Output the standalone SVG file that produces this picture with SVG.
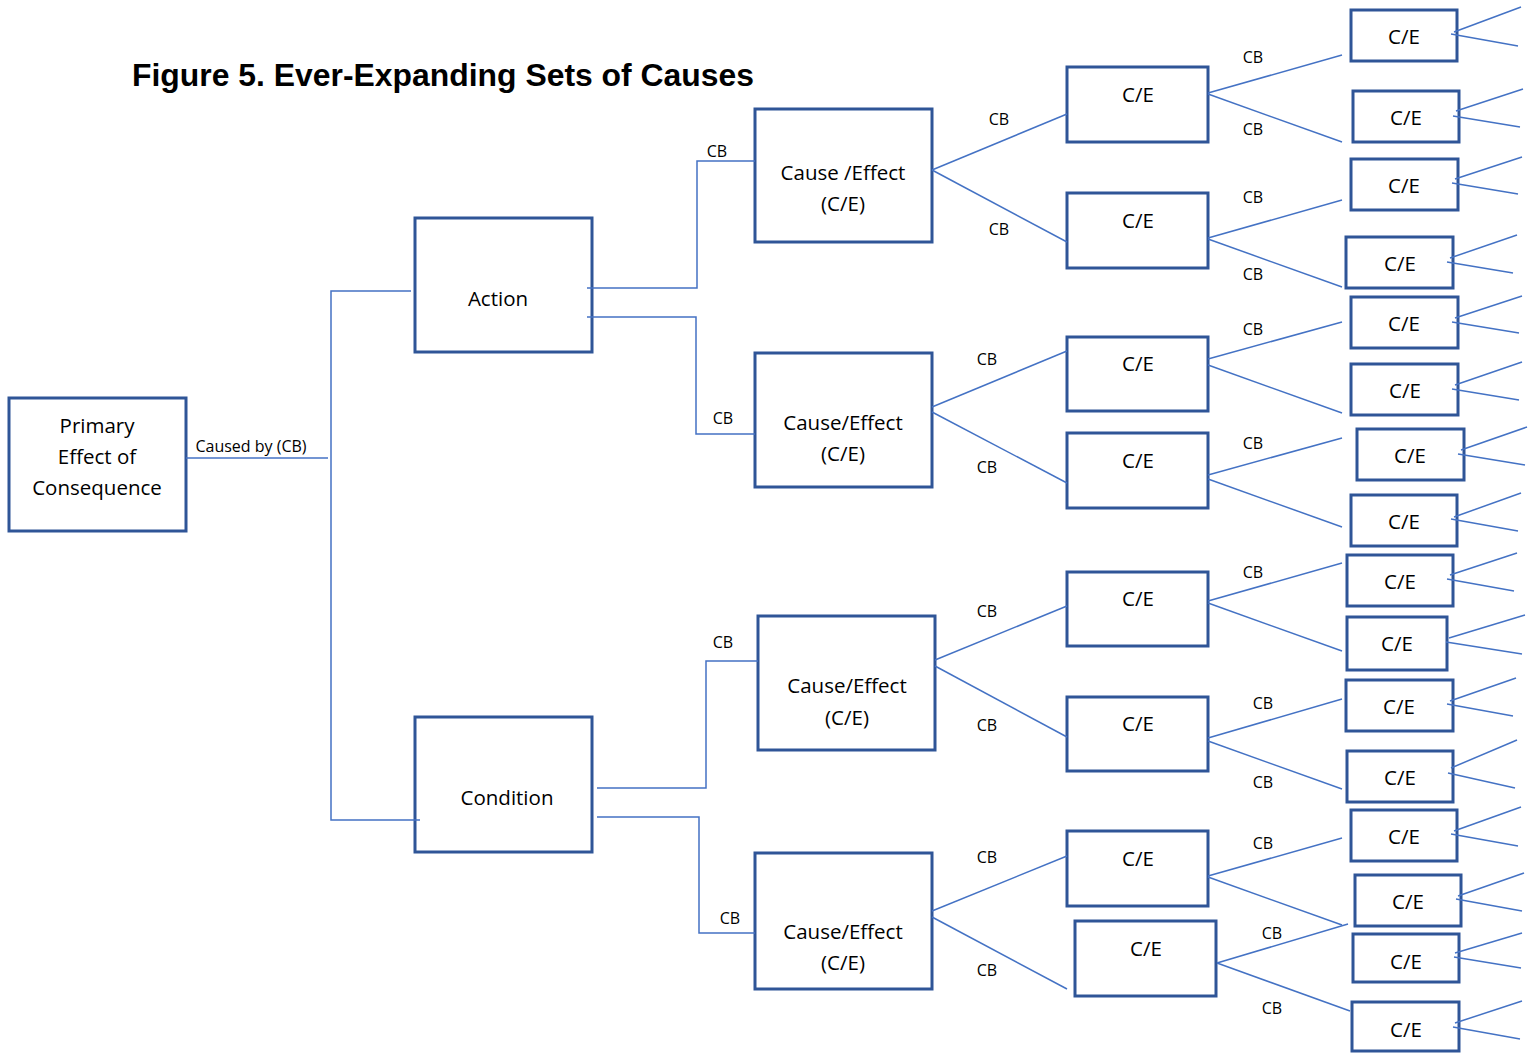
<svg xmlns="http://www.w3.org/2000/svg" width="1533" height="1053" viewBox="0 0 1533 1053">
<style>
.box{fill:#fff;stroke:#2F5597;stroke-width:3}
.ln{fill:none;stroke:#4472C4;stroke-width:1.5}
.t{font-family:"Open Sans","Liberation Sans",sans-serif;font-size:20.5px;fill:#000;text-anchor:middle}
.s{font-family:"Open Sans","Liberation Sans",sans-serif;font-size:16px;fill:#000;text-anchor:middle}
.title{font-family:"Liberation Sans",Arial,sans-serif;font-weight:bold;font-size:32px;fill:#000}
</style>
<rect width="1533" height="1053" fill="#fff"/>
<text class="title" x="132" y="86" textLength="622" lengthAdjust="spacingAndGlyphs">Figure 5. Ever-Expanding Sets of Causes</text>

<g id="primary"><rect class="box" x="9" y="398" width="177" height="133"/>
<text class="t" x="97" y="433">Primary</text><text class="t" x="97" y="464">Effect of</text><text class="t" x="97" y="495">Consequence</text></g>
<g id="action"><rect class="box" x="415" y="218" width="177" height="134"/><text class="t" x="498" y="306">Action</text></g>
<g id="condition"><rect class="box" x="415" y="717" width="177" height="135"/><text class="t" x="507" y="805">Condition</text></g>

<g id="ce-a"><rect class="box" x="755" y="109" width="177" height="133"/><text class="t" x="843" y="180">Cause /Effect</text><text class="t" x="843" y="211">(C/E)</text></g>
<g id="ce-b"><rect class="box" x="755" y="353" width="177" height="134"/><text class="t" x="843" y="430">Cause/Effect</text><text class="t" x="843" y="461">(C/E)</text></g>
<g id="ce-c"><rect class="box" x="758" y="616" width="177" height="134"/><text class="t" x="847" y="693">Cause/Effect</text><text class="t" x="847" y="725">(C/E)</text></g>
<g id="ce-d"><rect class="box" x="755" y="853" width="177" height="136"/><text class="t" x="843" y="939">Cause/Effect</text><text class="t" x="843" y="970">(C/E)</text></g>

<g id="l3-1"><rect class="box" x="1067" y="67" width="141" height="75"/><text class="t" x="1138" y="102">C/E</text></g>
<g id="l3-2"><rect class="box" x="1067" y="193" width="141" height="75"/><text class="t" x="1138" y="228">C/E</text></g>
<g id="l3-3"><rect class="box" x="1067" y="337" width="141" height="74"/><text class="t" x="1138" y="371">C/E</text></g>
<g id="l3-4"><rect class="box" x="1067" y="433" width="141" height="75"/><text class="t" x="1138" y="468">C/E</text></g>
<g id="l3-5"><rect class="box" x="1067" y="572" width="141" height="74"/><text class="t" x="1138" y="606">C/E</text></g>
<g id="l3-6"><rect class="box" x="1067" y="697" width="141" height="74"/><text class="t" x="1138" y="731">C/E</text></g>
<g id="l3-7"><rect class="box" x="1067" y="831" width="141" height="75"/><text class="t" x="1138" y="866">C/E</text></g>
<g id="l3-8"><rect class="box" x="1075" y="921" width="141" height="75"/><text class="t" x="1146" y="956">C/E</text></g>

<g id="l4-1"><rect class="box" x="1351" y="10" width="106" height="51"/><text class="t" x="1404" y="44">C/E</text></g>
<g id="l4-2"><rect class="box" x="1353" y="91" width="106" height="51"/><text class="t" x="1406" y="125">C/E</text></g>
<g id="l4-3"><rect class="box" x="1351" y="159" width="107" height="51"/><text class="t" x="1404" y="193">C/E</text></g>
<g id="l4-4"><rect class="box" x="1346" y="237" width="107" height="51"/><text class="t" x="1400" y="271">C/E</text></g>
<g id="l4-5"><rect class="box" x="1351" y="297" width="107" height="51"/><text class="t" x="1404" y="331">C/E</text></g>
<g id="l4-6"><rect class="box" x="1351" y="364" width="107" height="51"/><text class="t" x="1405" y="398">C/E</text></g>
<g id="l4-7"><rect class="box" x="1357" y="429" width="107" height="51"/><text class="t" x="1410" y="463">C/E</text></g>
<g id="l4-8"><rect class="box" x="1351" y="495" width="106" height="51"/><text class="t" x="1404" y="529">C/E</text></g>
<g id="l4-9"><rect class="box" x="1347" y="555" width="106" height="51"/><text class="t" x="1400" y="589">C/E</text></g>
<g id="l4-10"><rect class="box" x="1347" y="617" width="100" height="53"/><text class="t" x="1397" y="651">C/E</text></g>
<g id="l4-11"><rect class="box" x="1346" y="680" width="107" height="51"/><text class="t" x="1399" y="714">C/E</text></g>
<g id="l4-12"><rect class="box" x="1347" y="751" width="106" height="51"/><text class="t" x="1400" y="785">C/E</text></g>
<g id="l4-13"><rect class="box" x="1351" y="810" width="106" height="51"/><text class="t" x="1404" y="844">C/E</text></g>
<g id="l4-14"><rect class="box" x="1355" y="875" width="106" height="51"/><text class="t" x="1408" y="909">C/E</text></g>
<g id="l4-15"><rect class="box" x="1353" y="934" width="106" height="48"/><text class="t" x="1406" y="969">C/E</text></g>
<g id="l4-16"><rect class="box" x="1352" y="1002" width="107" height="49"/><text class="t" x="1406" y="1037">C/E</text></g>

<g id="connectors">
<polyline class="ln" points="186,458 328,458"/>
<polyline class="ln" points="411,291 331,291 331,820 420,820"/>
<polyline class="ln" points="587,288 697,288 697,161 755,161"/>
<polyline class="ln" points="587,317 696,317 696,434 755,434"/>
<polyline class="ln" points="597,788 706,788 706,661 758,661"/>
<polyline class="ln" points="597,817 699,817 699,933 755,933"/>
<line class="ln" x1="932" y1="170" x2="1067" y2="114"/>
<line class="ln" x1="932" y1="170" x2="1067" y2="242"/>
<line class="ln" x1="932" y1="407" x2="1067" y2="351"/>
<line class="ln" x1="932" y1="412" x2="1067" y2="483"/>
<line class="ln" x1="935" y1="660" x2="1067" y2="606"/>
<line class="ln" x1="935" y1="666" x2="1067" y2="737"/>
<line class="ln" x1="932" y1="911" x2="1067" y2="856"/>
<line class="ln" x1="932" y1="917" x2="1067" y2="989"/>
<line class="ln" x1="1208" y1="93" x2="1342" y2="55"/>
<line class="ln" x1="1208" y1="94" x2="1342" y2="142"/>
<line class="ln" x1="1208" y1="238" x2="1342" y2="200"/>
<line class="ln" x1="1208" y1="239" x2="1342" y2="287"/>
<line class="ln" x1="1208" y1="359" x2="1342" y2="322"/>
<line class="ln" x1="1208" y1="365" x2="1342" y2="413"/>
<line class="ln" x1="1208" y1="475" x2="1342" y2="438"/>
<line class="ln" x1="1208" y1="479" x2="1342" y2="527"/>
<line class="ln" x1="1208" y1="601" x2="1342" y2="563"/>
<line class="ln" x1="1208" y1="603" x2="1342" y2="651"/>
<line class="ln" x1="1208" y1="738" x2="1342" y2="699"/>
<line class="ln" x1="1208" y1="741" x2="1342" y2="789"/>
<line class="ln" x1="1208" y1="876" x2="1342" y2="838"/>
<line class="ln" x1="1208" y1="877" x2="1342" y2="925"/>
<line class="ln" x1="1217" y1="963" x2="1348" y2="924"/>
<line class="ln" x1="1217" y1="963" x2="1350" y2="1011"/>
<line class="ln" x1="1454" y1="32" x2="1521" y2="7"/>
<line class="ln" x1="1451" y1="34" x2="1518" y2="46"/>
<line class="ln" x1="1456" y1="111" x2="1523" y2="89"/>
<line class="ln" x1="1453" y1="116" x2="1520" y2="127"/>
<line class="ln" x1="1455" y1="179" x2="1522" y2="157"/>
<line class="ln" x1="1452" y1="183" x2="1518" y2="194"/>
<line class="ln" x1="1450" y1="258" x2="1517" y2="235"/>
<line class="ln" x1="1447" y1="262" x2="1513" y2="273"/>
<line class="ln" x1="1455" y1="318" x2="1522" y2="296"/>
<line class="ln" x1="1452" y1="322" x2="1519" y2="333"/>
<line class="ln" x1="1455" y1="385" x2="1522" y2="362"/>
<line class="ln" x1="1452" y1="389" x2="1519" y2="400"/>
<line class="ln" x1="1461" y1="450" x2="1527" y2="427"/>
<line class="ln" x1="1458" y1="454" x2="1525" y2="465"/>
<line class="ln" x1="1454" y1="517" x2="1521" y2="493"/>
<line class="ln" x1="1451" y1="519" x2="1518" y2="531"/>
<line class="ln" x1="1450" y1="575" x2="1517" y2="553"/>
<line class="ln" x1="1447" y1="579" x2="1514" y2="591"/>
<line class="ln" x1="1449" y1="638" x2="1525" y2="615"/>
<line class="ln" x1="1446" y1="642" x2="1522" y2="654"/>
<line class="ln" x1="1450" y1="701" x2="1516" y2="678"/>
<line class="ln" x1="1447" y1="704" x2="1513" y2="716"/>
<line class="ln" x1="1451" y1="768" x2="1517" y2="740"/>
<line class="ln" x1="1448" y1="773" x2="1515" y2="788"/>
<line class="ln" x1="1454" y1="831" x2="1521" y2="807"/>
<line class="ln" x1="1451" y1="834" x2="1518" y2="846"/>
<line class="ln" x1="1458" y1="896" x2="1524" y2="873"/>
<line class="ln" x1="1456" y1="899" x2="1522" y2="911"/>
<line class="ln" x1="1455" y1="953" x2="1522" y2="933"/>
<line class="ln" x1="1454" y1="957" x2="1521" y2="968"/>
<line class="ln" x1="1455" y1="1023" x2="1522" y2="1001"/>
<line class="ln" x1="1453" y1="1027" x2="1520" y2="1039"/>
<text class="s" x="251" y="452">Caused by (CB)</text>
<text class="s" x="717" y="157">CB</text>
<text class="s" x="723" y="424">CB</text>
<text class="s" x="723" y="648">CB</text>
<text class="s" x="730" y="924">CB</text>
<text class="s" x="999" y="125">CB</text>
<text class="s" x="999" y="235">CB</text>
<text class="s" x="987" y="365">CB</text>
<text class="s" x="987" y="473">CB</text>
<text class="s" x="987" y="617">CB</text>
<text class="s" x="987" y="731">CB</text>
<text class="s" x="987" y="863">CB</text>
<text class="s" x="987" y="976">CB</text>
<text class="s" x="1253" y="63">CB</text>
<text class="s" x="1253" y="135">CB</text>
<text class="s" x="1253" y="203">CB</text>
<text class="s" x="1253" y="280">CB</text>
<text class="s" x="1253" y="335">CB</text>
<text class="s" x="1253" y="449">CB</text>
<text class="s" x="1253" y="578">CB</text>
<text class="s" x="1263" y="709">CB</text>
<text class="s" x="1263" y="788">CB</text>
<text class="s" x="1263" y="849">CB</text>
<text class="s" x="1272" y="939">CB</text>
<text class="s" x="1272" y="1014">CB</text>
</g>
</svg>
